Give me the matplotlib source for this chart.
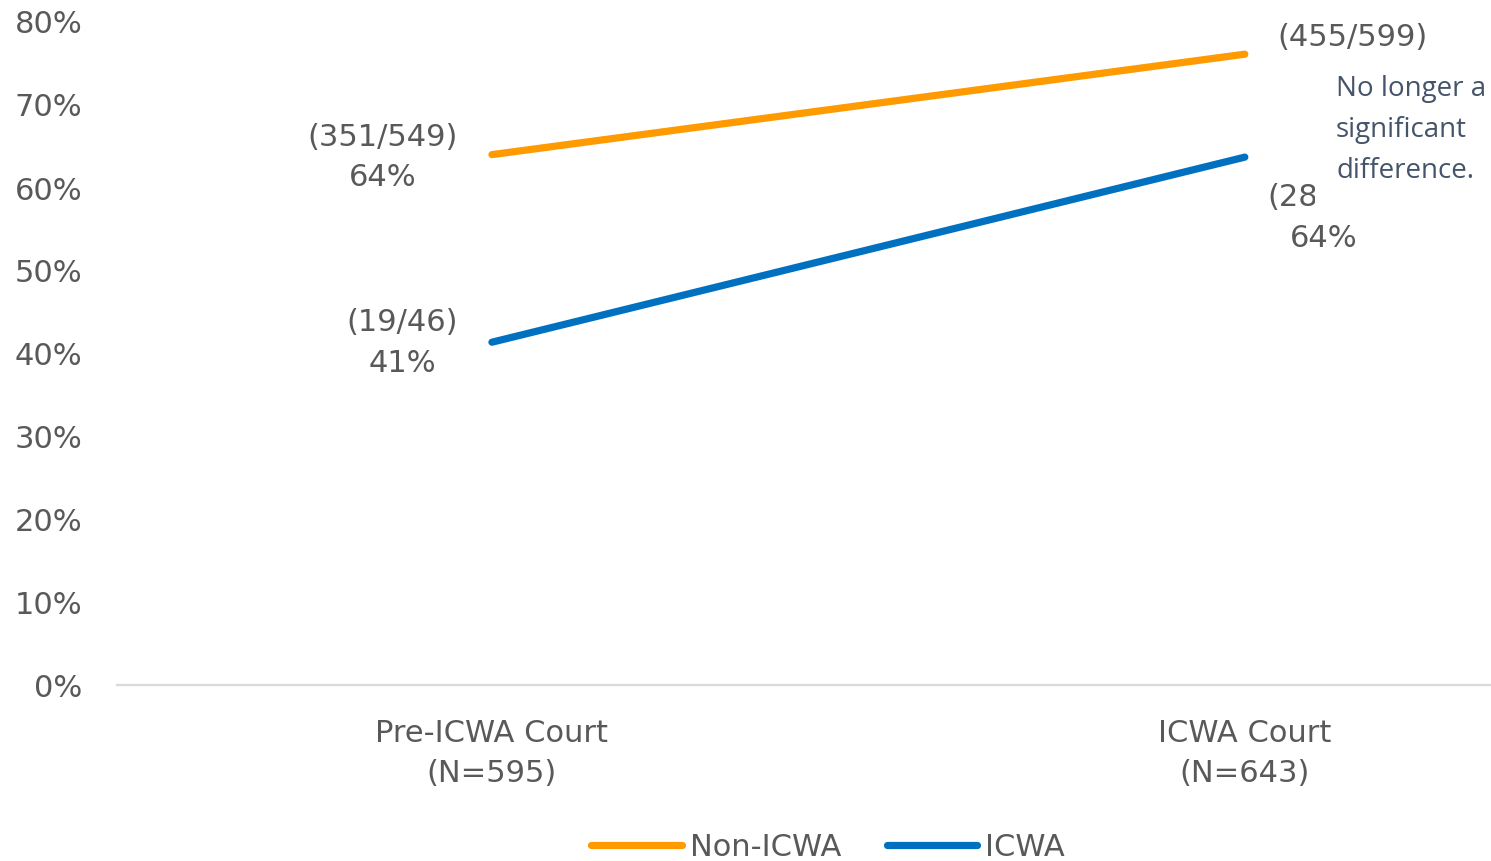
import matplotlib
matplotlib.use("Agg")
import matplotlib.pyplot as plt
from matplotlib.patches import Rectangle
from matplotlib.ticker import FuncFormatter

# ---- data ----
categories = ["Pre-ICWA Court\n(N=595)", "ICWA Court\n(N=643)"]
series_names = ["Non-ICWA", "ICWA"]
non_icwa = [0.639, 0.760]
icwa = [0.413, 0.636]
non_icwa_labels = ["(351/549)\n64%", "(455/599)\n76%"]
icwa_labels = ["(19/46)\n41%", "(28/44)\n64%"]
yticks = [0, 0.1, 0.2, 0.3, 0.4, 0.5, 0.6, 0.7, 0.8]
note = "No longer a\nsignificant\ndifference."

# ---- style ----
W, H = 1491, 862
DPI = 100
ORANGE = "#FF9A00"
BLUE = "#0070C0"
GREY = "#595959"
NOTE = "#44546A"
FS = 22
LS = 1.5

plt.rcParams["font.family"] = ["DejaVu Sans"]

fig = plt.figure(figsize=(W / DPI, H / DPI), dpi=DPI)
ax = fig.add_axes([117 / W, 176 / H, 1374 / W, 664 / H])

x = list(range(len(categories)))
ax.plot(x, non_icwa, color=ORANGE, lw=5.2, solid_capstyle="round", label=series_names[0])
ax.plot(x, icwa, color=BLUE, lw=5.2, solid_capstyle="round", label=series_names[1])

ax.set_xlim(-0.498, 1.327)
ax.set_ylim(0, 0.8)
ax.set_yticks(yticks)
ax.yaxis.set_major_formatter(FuncFormatter(lambda v, p: f"{v*100:.0f}%"))
ax.set_xticks(x)
ax.set_xticklabels(categories, linespacing=LS)
ax.tick_params(axis="y", length=0, pad=25, labelsize=FS, labelcolor=GREY)
ax.tick_params(axis="x", length=0, pad=23.5, labelsize=FS, labelcolor=GREY)

for s in ["left", "top", "right"]:
    ax.spines[s].set_visible(False)
ax.spines["bottom"].set_color("#D9D9D9")
ax.spines["bottom"].set_linewidth(1.6)

# data labels
lab_kw = dict(textcoords="offset pixels", fontsize=FS, color=GREY,
              multialignment="center", linespacing=LS, annotation_clip=False)
ax.annotate(non_icwa_labels[0], (x[0], non_icwa[0]), xytext=(-34, -2), ha="right", va="center", **lab_kw)
ax.annotate(icwa_labels[0], (x[0], icwa[0]), xytext=(-34, 0), ha="right", va="center", **lab_kw)
ax.annotate(non_icwa_labels[1], (x[1], non_icwa[1]), xytext=(33, -3), ha="left", va="center", **lab_kw)
ax.annotate(icwa_labels[1], (x[1], icwa[1]), xytext=(23, -60), ha="left", va="center", **lab_kw)

# white note box covering part of labels
fig.patches.append(Rectangle((1315 / W, 1 - 214 / H), (W - 1315) / W, (214 - 58) / H,
                             transform=fig.transFigure, facecolor="white",
                             edgecolor="none", zorder=5))
fig.text(1336 / W, 1 - 130 / H, note, ha="left", va="center", fontsize=20,
         color=NOTE, family=["Open Sans", "DejaVu Sans"], linespacing=1.62, zorder=6)

# legend
fig.legend(loc="center", bbox_to_anchor=(828 / W, 14 / H), ncol=2, frameon=False,
           fontsize=FS, labelcolor=GREY, handlelength=2.95, handletextpad=0.26,
           columnspacing=1.5, borderpad=0, borderaxespad=0)

fig.savefig("out.png", dpi=DPI)
